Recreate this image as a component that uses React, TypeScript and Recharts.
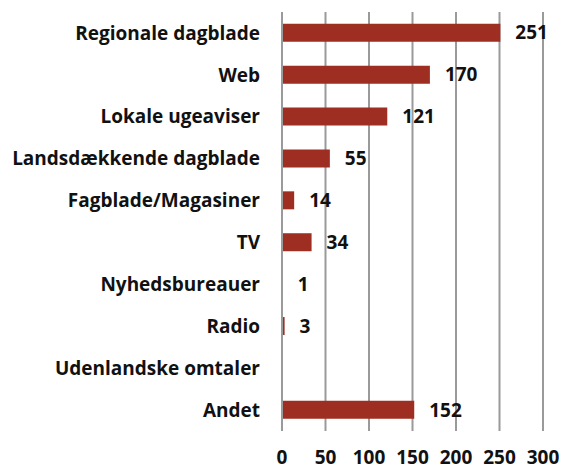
import { BarChart, Bar, XAxis, YAxis, CartesianGrid, LabelList } from "recharts";

// Categories (top to bottom) and their counts
const categories = [
  "Regionale dagblade",
  "Web",
  "Lokale ugeaviser",
  "Landsdækkende dagblade",
  "Fagblade/Magasiner",
  "TV",
  "Nyhedsbureauer",
  "Radio",
  "Udenlandske omtaler",
  "Andet",
];
const counts = [251, 170, 121, 55, 14, 34, 1, 3, 0, 152];
const xTicks = [0, 50, 100, 150, 200, 250, 300];

const data = categories.map((name, i) => ({ name, value: counts[i] }));

const FONT = "'Open Sans', Lato, sans-serif";
const BAR_COLOR = "#9E2E21";
const textStyle = { fontSize: 19, fontWeight: 700, fill: "#111", fontFamily: FONT };

export default function App() {
  return (
    <div style={{ width: 555, height: 462, padding: "8px 0 0 8px", fontFamily: FONT }}>
      <style>{"html,body{margin:0;overflow:hidden}"}</style>
      <BarChart
        width={555}
        height={462}
        data={data}
        layout="vertical"
        margin={{ top: 4, right: 20, bottom: 0, left: 0 }}
        barCategoryGap="28%"
      >
        <CartesianGrid horizontal={false} stroke="#9a9a9a" strokeWidth={2} />
        <XAxis
          type="number"
          domain={[0, 300]}
          ticks={xTicks}
          axisLine={false}
          tickLine={false}
          tickSize={0}
          tickMargin={20}
          height={39}
          tick={textStyle}
        />
        <YAxis
          type="category"
          dataKey="name"
          width={274}
          axisLine={{ stroke: "#9a9a9a", strokeWidth: 2 }}
          tickLine={false}
          tickSize={0}
          tickMargin={22}
          interval={0}
          tick={textStyle}
        />
        <Bar dataKey="value" fill={BAR_COLOR} isAnimationActive={false}>
          <LabelList
            dataKey="value"
            position="right"
            offset={15}
            formatter={(v: any) => (Number(v) === 0 ? "" : v)}
            style={textStyle}
          />
        </Bar>
      </BarChart>
    </div>
  );
}
